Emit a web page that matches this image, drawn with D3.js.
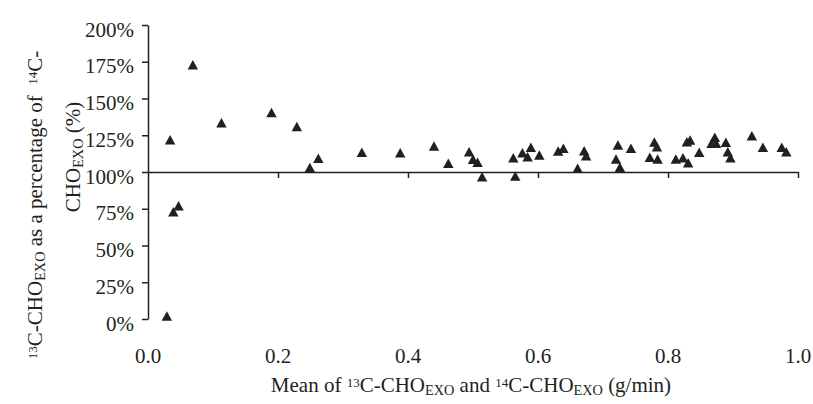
<!DOCTYPE html>
<html>
<head>
<meta charset="utf-8">
<script src="https://cdn.jsdelivr.net/npm/d3@7"></script>
<style>
  body { margin: 0; background: #fff; }
  text { font-family: "Liberation Serif", "Times New Roman", serif; fill: #231f20; }
</style>
</head>
<body>
<script>
// mean of 13C and 14C CHO_EXO (g/min)
var meanRate = [0.029, 0.034, 0.039, 0.047, 0.069, 0.113, 0.190, 0.229, 0.249, 0.262,
  0.329, 0.388, 0.440, 0.462, 0.494, 0.500, 0.507, 0.514, 0.562, 0.565,
  0.576, 0.584, 0.589, 0.602, 0.631, 0.639, 0.661, 0.671, 0.674, 0.720,
  0.723, 0.726, 0.743, 0.772, 0.779, 0.783, 0.784, 0.812, 0.823, 0.829,
  0.831, 0.834, 0.848, 0.867, 0.872, 0.874, 0.889, 0.892, 0.896, 0.929,
  0.946, 0.975, 0.982];
// 13C as percentage of 14C
var pctOf14C = [2, 122, 73, 77, 173, 133.5, 140.5, 131, 103, 109.3,
  113.4, 113.1, 117.7, 105.9, 113.8, 108.6, 106.6, 96.8, 109.7, 97.3,
  113.1, 110.4, 116.8, 111.6, 114.3, 116.1, 102.5, 114.5, 111.1, 108.8,
  118.4, 103.2, 116.1, 110, 120.4, 117.2, 108.8, 108.8, 109.7, 120.6,
  106.3, 121.8, 113.4, 119.5, 123.6, 119.5, 120.2, 113.8, 109.7, 124.7,
  116.8, 116.8, 113.8];
var xTicks = [0, 0.2, 0.4, 0.6, 0.8, 1.0];
var yTicks = [0, 25, 50, 75, 100, 125, 150, 175, 200];

var ink = "#231f20";
var svg = d3.select("body").append("svg")
  .attr("width", 813)
  .attr("height", 404);

var x = d3.scaleLinear().domain([0, 1]).range([148, 798]);
var y = d3.scaleLinear().domain([0, 200]).range([319, 25]);

// y axis
var yAxis = svg.append("g")
  .attr("transform", "translate(" + x(0) + ",0)")
  .call(d3.axisLeft(y).tickValues(yTicks).tickSize(6).tickSizeOuter(0).tickFormat(function (d) { return d + "%"; }));
yAxis.selectAll("path, line").attr("stroke", ink).attr("stroke-width", 1.5);
yAxis.selectAll("text")
  .attr("x", -14)
  .attr("dy", null)
  .attr("y", 11)
  .style("font-size", "21px")
  .style("font-family", "'Liberation Serif', serif")
  .attr("fill", ink);

// x axis crossing at 100%
var xAxis = svg.append("g")
  .attr("transform", "translate(0," + y(100) + ")")
  .call(d3.axisBottom(x).tickValues(xTicks.slice(1)).tickSize(6).tickSizeOuter(0).tickFormat(""));
xAxis.selectAll("path, line").attr("stroke", ink).attr("stroke-width", 1.5);

// x tick labels sit at the bottom
svg.append("g").selectAll("text")
  .data(xTicks)
  .enter().append("text")
  .attr("x", function (d) { return x(d); })
  .attr("y", 363)
  .attr("text-anchor", "middle")
  .style("font-size", "21px")
  .text(function (d) { return d.toFixed(1); });

// triangles, centred on their bounding box
var tri = {
  draw: function (ctx, size) {
    var s = Math.sqrt(size);
    ctx.moveTo(0, -s / 2);
    ctx.lineTo(s * 0.55, s / 2);
    ctx.lineTo(-s * 0.55, s / 2);
    ctx.closePath();
  }
};
svg.append("g").selectAll("path")
  .data(meanRate)
  .enter().append("path")
  .attr("transform", function (d, i) { return "translate(" + x(d) + "," + y(pctOf14C[i]) + ")"; })
  .attr("d", d3.symbol().type(tri).size(90))
  .attr("fill", ink);

// rich text helper for super/subscripts
function rich(sel, parts, size) {
  parts.forEach(function (p) {
    var t = sel.append("tspan").text(p[0]);
    if (p[1] == "sup") t.style("font-size", (size * 0.62) + "px").attr("baseline-shift", "40%");
    else if (p[1] == "sub") t.style("font-size", (size * 0.68) + "px").attr("baseline-shift", "-22%");
  });
}

var xt = svg.append("text")
  .attr("x", 471)
  .attr("y", 392)
  .attr("text-anchor", "middle")
  .style("font-size", "21px");
rich(xt, [["Mean of "], ["13", "sup"], ["C-CHO"], ["EXO", "sub"], [" and "], ["14", "sup"], ["C-CHO"], ["EXO", "sub"], [" (g/min)"]], 21);

var yt1 = svg.append("text")
  .attr("transform", "translate(42,205) rotate(-90)")
  .attr("text-anchor", "middle")
  .style("font-size", "21px")
  .style("white-space", "pre");
rich(yt1, [["13", "sup"], ["C-CHO"], ["EXO", "sub"], [" as a percentage of  "], ["14", "sup"], ["C-"]], 21);

var yt2 = svg.append("text")
  .attr("transform", "translate(80,157) rotate(-90)")
  .attr("text-anchor", "middle")
  .style("font-size", "21px");
rich(yt2, [["CHO"], ["EXO", "sub"], [" (%)"]], 21);
</script>
</body>
</html>
